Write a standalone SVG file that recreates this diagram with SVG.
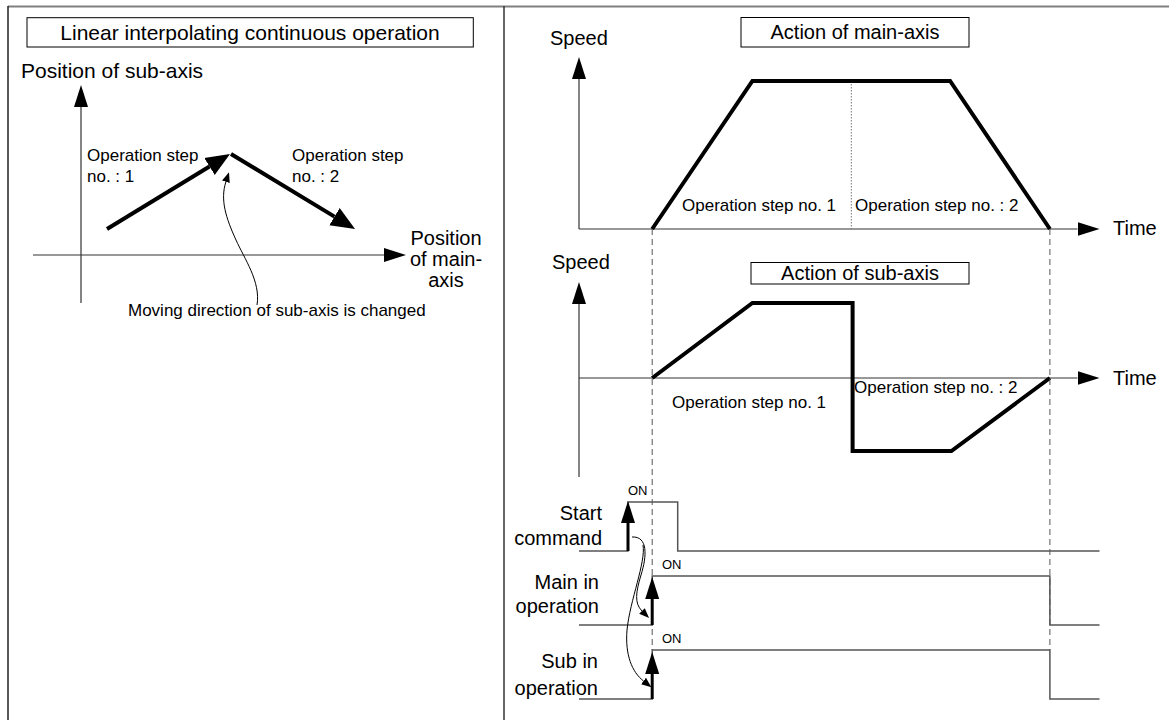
<svg xmlns="http://www.w3.org/2000/svg" width="1169" height="720" viewBox="0 0 1169 720">
<defs>
<style>
text{font-family:"Liberation Sans",Arial,sans-serif;fill:#000}
.t21{font-size:21px}
.t20{font-size:20px}
.t17{font-size:17px}
.t13{font-size:13px}
.box{fill:#fff;stroke:#000;stroke-width:1}
.axis{fill:none;stroke:#333;stroke-width:1.2}
.thick{fill:none;stroke:#000;stroke-width:4;stroke-linejoin:miter}
.thin{fill:none;stroke:#000;stroke-width:1}
.sig{fill:none;stroke:#555;stroke-width:1.5}
.dash{fill:none;stroke:#555;stroke-width:1;stroke-dasharray:6,4}
.dot{fill:none;stroke:#777;stroke-width:1;stroke-dasharray:1.5,1.5}
.shaft{fill:none;stroke:#000;stroke-width:3}
</style>
<marker id="axHead" markerUnits="userSpaceOnUse" viewBox="0 -8 24 16" refX="0" refY="0" markerWidth="24" markerHeight="16" orient="auto"><path d="M0,-7 L22,0 L0,7 z" fill="#000"/></marker>
<marker id="bigHead" markerUnits="userSpaceOnUse" viewBox="0 -11 26 22" refX="0" refY="0" markerWidth="26" markerHeight="22" orient="auto"><path d="M0,-10 L24,0 L0,10 z" fill="#000"/></marker>
<marker id="smallHead" markerUnits="userSpaceOnUse" viewBox="0 -5 12 10" refX="0" refY="0" markerWidth="12" markerHeight="10" orient="auto"><path d="M0,-4 L10,0 L0,4 z" fill="#000"/></marker>
</defs>
<rect width="1169" height="720" fill="#fff"/>

<g id="frame">
<line x1="8" y1="6.5" x2="1169" y2="6.5" stroke="#808080" stroke-width="2"/>
<line x1="8" y1="6" x2="8" y2="720" stroke="#222" stroke-width="1.5"/>
<line x1="504" y1="6" x2="504" y2="720" stroke="#333" stroke-width="1.5"/>
</g>

<!-- Left panel -->
<g id="left-title">
<rect class="box" x="27" y="17.7" width="446.3" height="29.3"/>
<text class="t21" x="250" y="39.5" text-anchor="middle">Linear interpolating continuous operation</text>
</g>
<g id="left-axes">
<line class="axis" x1="81" y1="303" x2="81" y2="107" marker-end="url(#axHead)"/>
<line class="axis" x1="33" y1="255" x2="384" y2="255" marker-end="url(#axHead)"/>
<text class="t21" x="21" y="78">Position of sub-axis</text>
<text class="t20" x="446" y="245" text-anchor="middle">Position</text>
<text class="t20" x="446" y="266" text-anchor="middle">of main-</text>
<text class="t20" x="446" y="287" text-anchor="middle">axis</text>
</g>
<g id="left-steps">
<line class="thick" x1="107" y1="229" x2="209.5" y2="166.5" marker-end="url(#bigHead)"/>
<line class="thick" x1="231" y1="154" x2="334.5" y2="216.6" marker-end="url(#bigHead)"/>
<text class="t17" x="87" y="161">Operation step</text>
<text class="t17" x="87" y="182">no. : 1</text>
<text class="t17" x="292" y="161">Operation step</text>
<text class="t17" x="292" y="182">no. : 2</text>
</g>
<g id="left-note">
<path class="thin" d="M257 305 C261 282 244 258 236 240 C226 218 220 200 225.9 181.8" marker-end="url(#smallHead)"/>
<text class="t17" x="128" y="316">Moving direction of sub-axis is changed</text>
</g>

<!-- Right panel: main axis -->
<g id="main-graph">
<text class="t20" x="550" y="45">Speed</text>
<rect class="box" x="741" y="17.5" width="228" height="29.5"/>
<text class="t20" x="855" y="39" text-anchor="middle">Action of main-axis</text>
<line class="axis" x1="579" y1="229" x2="579" y2="79" marker-end="url(#axHead)"/>
<line class="axis" x1="579" y1="229" x2="1077.5" y2="229" marker-end="url(#axHead)"/>
<text class="t20" x="1113" y="235">Time</text>
<line class="dot" x1="851.3" y1="81" x2="851.3" y2="229"/>
<polyline class="thick" points="652.2,229 752.4,81 950.1,81 1049.9,229"/>
<text class="t17" x="682" y="211">Operation step no. 1</text>
<text class="t17" x="855" y="211">Operation step no. : 2</text>
</g>

<!-- Right panel: sub axis -->
<g id="sub-graph">
<text class="t20" x="552" y="269">Speed</text>
<rect class="box" x="751" y="262.5" width="218" height="21.5"/>
<text class="t20" x="860" y="280" text-anchor="middle" font-size="19">Action of sub-axis</text>
<line class="axis" x1="579" y1="477" x2="579" y2="304" marker-end="url(#axHead)"/>
<line class="axis" x1="579" y1="378" x2="1077.5" y2="378" marker-end="url(#axHead)"/>
<text class="t20" x="1113" y="385">Time</text>
<polyline class="thick" points="652.2,378 752.4,303 852.6,303 852.6,451 951.4,451 1049.9,378"/>
<text class="t17" x="672" y="408">Operation step no. 1</text>
<text class="t17" x="854" y="393">Operation step no. : 2</text>
</g>

<g id="guides">
<line class="dash" x1="652.2" y1="229" x2="652.2" y2="650"/>
<line class="dash" x1="1049.9" y1="229" x2="1049.9" y2="650"/>
</g>

<!-- Timing signals -->
<g id="start-command">
<polyline class="sig" points="579,551 628,551 628,502 677.7,502 677.7,551 1099.5,551"/>
<line class="shaft" x1="628" y1="551" x2="628" y2="523" marker-end="url(#axHead)"/>
<text class="t13" x="628" y="495">ON</text>
<text class="t20" x="602" y="520" text-anchor="end">Start</text>
<text class="t20" x="602" y="545" text-anchor="end">command</text>
</g>
<g id="main-in-operation">
<polyline class="sig" points="579,625 652.2,625 652.2,576 1049.9,576 1049.9,625 1099.5,625"/>
<line class="shaft" x1="652.2" y1="625" x2="652.2" y2="599" marker-end="url(#axHead)"/>
<text class="t13" x="662" y="569">ON</text>
<text class="t20" x="599" y="589" text-anchor="end">Main in</text>
<text class="t20" x="599" y="613" text-anchor="end">operation</text>
</g>
<g id="sub-in-operation">
<polyline class="sig" points="579,699 652.2,699 652.2,650 1049.9,650 1049.9,699 1099.5,699"/>
<line class="shaft" x1="652.2" y1="699" x2="652.2" y2="674" marker-end="url(#axHead)"/>
<text class="t13" x="662" y="643">ON</text>
<text class="t20" x="598" y="668" text-anchor="end">Sub in</text>
<text class="t20" x="598" y="695" text-anchor="end">operation</text>
</g>

<g id="connectors">
<path class="thin" d="M632 537 C648 536 647 556 641 575 C636 592 634 603 642 611" marker-end="url(#smallHead)"/>
<path class="thin" d="M643 545 C646 562 630 600 627 630 C625 655 632 672 643.5 681" marker-end="url(#smallHead)"/>
</g>
</svg>
